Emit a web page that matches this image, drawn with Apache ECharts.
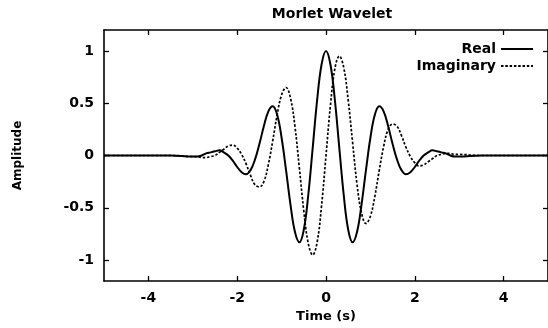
<!DOCTYPE html>
<html>
<head>
<meta charset="utf-8">
<title>Morlet Wavelet</title>
<script src="https://cdn.jsdelivr.net/npm/echarts@6/dist/echarts.min.js"></script>
<style>
  html, body { margin: 0; padding: 0; background: #fff; }
  #chart { width: 548px; height: 328px; }
</style>
</head>
<body>
<div id="chart"></div>
<script>
// Sample times (s)
const timeSec = [
  -5, -4.5, -4, -3.5,
  -3.0, -2.9, -2.8, -2.7, -2.6, -2.5, -2.4, -2.3, -2.2, -2.1,
  -2.0, -1.9, -1.8, -1.7, -1.6, -1.5, -1.4, -1.3, -1.2, -1.1,
  -1.0, -0.9, -0.8, -0.7, -0.6, -0.5, -0.4, -0.3, -0.2, -0.1,
  0.0, 0.1, 0.2, 0.3, 0.4, 0.5, 0.6, 0.7, 0.8, 0.9,
  1.0, 1.1, 1.2, 1.3, 1.4, 1.5, 1.6, 1.7, 1.8, 1.9,
  2.0, 2.1, 2.2, 2.3, 2.4, 2.5, 2.6, 2.7, 2.8, 2.9, 3.0,
  3.5, 4, 4.5, 5
];

// Real part of the wavelet
const realPart = [
  0, 0, 0, 0,
  -0.01, -0.01, 0.00, 0.02, 0.03, 0.04, 0.05, 0.03, 0.00, -0.05,
  -0.11, -0.16, -0.18, -0.14, -0.04, 0.11, 0.28, 0.42, 0.47, 0.39,
  0.17, -0.14, -0.47, -0.73, -0.83, -0.71, -0.38, 0.07, 0.53, 0.87,
  1.00, 0.87, 0.53, 0.07, -0.38, -0.71, -0.83, -0.73, -0.47, -0.14,
  0.17, 0.39, 0.47, 0.42, 0.28, 0.11, -0.04, -0.14, -0.18, -0.16,
  -0.11, -0.05, 0.00, 0.03, 0.05, 0.04, 0.03, 0.02, 0.00, -0.01, -0.01,
  0, 0, 0, 0
];

// Imaginary part of the wavelet
const imagPart = [
  0, 0, 0, 0,
  -0.01, -0.01, -0.02, -0.02, -0.01, 0.00, 0.03, 0.06, 0.09, 0.10,
  0.07, 0.01, -0.08, -0.19, -0.28, -0.30, -0.25, -0.09, 0.14, 0.39,
  0.58, 0.65, 0.55, 0.28, -0.12, -0.53, -0.84, -0.95, -0.83, -0.48,
  0.00, 0.48, 0.83, 0.95, 0.84, 0.53, 0.12, -0.28, -0.55, -0.65,
  -0.58, -0.39, -0.14, 0.09, 0.25, 0.30, 0.28, 0.19, 0.08, -0.01,
  -0.07, -0.10, -0.09, -0.06, -0.03, 0.00, 0.01, 0.02, 0.02, 0.01, 0.01,
  0, 0, 0, 0
];

const xTicks = [-4, -2, 0, 2, 4];
const yTicks = [-1, -0.5, 0, 0.5, 1];

const FONT = 'DejaVu Sans';
const ink = '#000';

const pairs = (xs, ys) => xs.map((x, i) => [x, ys[i]]);

const frameLine = { show: true, onZero: false, lineStyle: { color: ink, width: 1.6 } };
const innerTick = (vals) => ({ show: true, inside: true, length: 5, customValues: vals, lineStyle: { color: ink, width: 1.3 } });
const tickLabel = (vals) => ({
  show: true, customValues: vals, color: ink, fontFamily: FONT, fontWeight: 'bold', fontSize: 14, margin: 10
});

const chart = echarts.init(document.getElementById('chart'), null, { renderer: 'canvas' });

chart.setOption({
  animation: false,
  backgroundColor: '#fff',
  title: {
    text: 'Morlet Wavelet',
    left: 327,
    top: 2,
    textAlign: 'center',
    textStyle: { color: ink, fontFamily: FONT, fontWeight: 'bold', fontSize: 14 }
  },
  legend: {
    orient: 'vertical',
    right: 14,
    top: 42,
    align: 'right',
    itemWidth: 32,
    itemHeight: 12,
    itemGap: 3,
    padding: 0,
    // line-only keys: hide the marker drawn on the sample line
    itemStyle: { color: 'transparent', borderColor: 'transparent', borderWidth: 0 },
    textStyle: { color: ink, fontFamily: FONT, fontWeight: 'bold', fontSize: 14 },
    data: ['Real', 'Imaginary']
  },
  grid: { left: 104, right: -2, top: 30, bottom: 47, containLabel: false },
  xAxis: [
    {
      type: 'value', min: -5, max: 5, position: 'bottom',
      axisLine: frameLine,
      axisTick: innerTick(xTicks),
      axisLabel: tickLabel(xTicks),
      splitLine: { show: false },
      name: 'Time (s)',
      nameLocation: 'middle',
      nameGap: 20,
      nameTextStyle: { color: ink, fontFamily: FONT, fontWeight: 'bold', fontSize: 13 }
    },
    {
      type: 'value', min: -5, max: 5, position: 'top',
      axisLine: frameLine,
      axisTick: innerTick(xTicks),
      axisLabel: { show: false },
      splitLine: { show: false }
    }
  ],
  yAxis: [
    {
      type: 'value', min: -1.2, max: 1.2, position: 'left',
      axisLine: frameLine,
      axisTick: innerTick(yTicks),
      axisLabel: tickLabel(yTicks),
      splitLine: { show: false },
      name: 'Amplitude',
      nameLocation: 'middle',
      nameRotate: 90,
      nameGap: 80,
      nameTextStyle: { color: ink, fontFamily: FONT, fontWeight: 'bold', fontSize: 12 }
    },
    {
      type: 'value', min: -1.2, max: 1.2, position: 'right',
      axisLine: frameLine,
      axisTick: innerTick(yTicks),
      axisLabel: { show: false },
      splitLine: { show: false }
    }
  ],
  series: [
    {
      name: 'Real',
      type: 'line',
      xAxisIndex: 0, yAxisIndex: 0,
      data: pairs(timeSec, realPart),
      smooth: 0.4,
      symbol: 'none',
      z: 3,
      lineStyle: { color: ink, width: 2 },
      itemStyle: { color: ink }
    },
    {
      name: 'Imaginary',
      type: 'line',
      xAxisIndex: 0, yAxisIndex: 0,
      data: pairs(timeSec, imagPart),
      smooth: 0.4,
      symbol: 'none',
      z: 2,
      lineStyle: { color: ink, width: 1.7, type: [2.5, 1.8] },
      itemStyle: { color: ink }
    }
  ]
});
</script>
</body>
</html>
